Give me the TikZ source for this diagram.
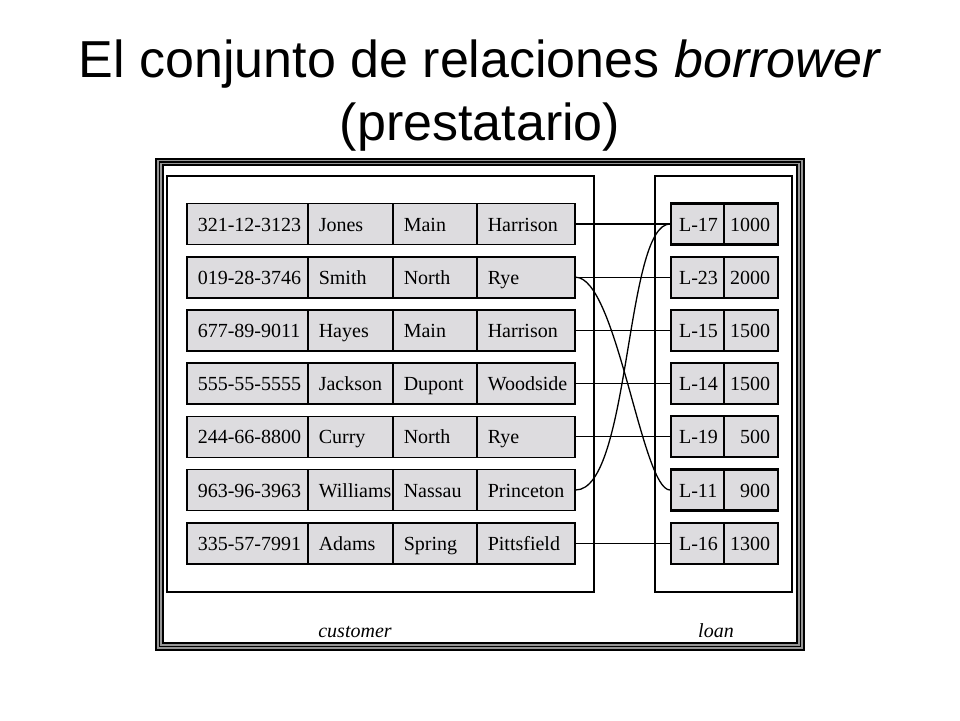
\documentclass[tikz,border=0pt]{standalone}
\usepackage{fontspec}
\setmainfont{Liberation Serif}
\newfontfamily\titlefont{Liberation Sans}
\definecolor{cellgray}{RGB}{221,220,223}
\definecolor{bandgray}{RGB}{150,150,150}
\tikzset{
  cell/.style={draw, line width=1.6pt, fill=cellgray, anchor=west, minimum height=41,
    inner xsep=11, inner ysep=0, text height=14, text depth=0, align=left,
    font=\fontsize{20}{24}\selectfont, execute at begin node={\exhyphenpenalty=10000\relax}},
  loancell/.style={cell, line width=2.2pt},
  link/.style={line width=1.3pt},
  relname/.style={font=\fontsize{20}{24}\selectfont\itshape, anchor=base},
}

\begin{document}
\begin{tikzpicture}[x=1pt,y=-1pt]
\useasboundingbox (0,0) rectangle (960,720);
% title
\node[anchor=base, font=\titlefont\fontsize{52}{62}\selectfont] (title1) at (480,77) {El conjunto de relaciones \textit{borrower}};
\node[anchor=base, font=\titlefont\fontsize{52}{62}\selectfont] (title2) at (480,140) {(prestatario)};
% frame
\draw[bandgray, line width=7pt] (159.5,162) rectangle (800.5,646.5);
\draw[line width=1.2pt] (156,159) rectangle (804,650);
\draw[line width=1.2pt] (159.5,162) rectangle (800.5,646.5);
\draw[line width=1.2pt] (163,165) rectangle (797,643);
\draw[line width=1.4pt] (167,176) rectangle (594,592);
\draw[line width=1.4pt] (655,176) rectangle (792,592);
% customer
\node[cell, text width=99] (c1a) at (186,224) {321-12-3123};
\node[cell, text width=63] (c1b) at (307,224) {Jones};
\node[cell, text width=62] (c1c) at (392,224) {Main};
\node[cell, text width=76] (c1d) at (476,224) {Harrison};
\node[cell, text width=99] (c2a) at (186,277.2) {019-28-3746};
\node[cell, text width=63] (c2b) at (307,277.2) {Smith};
\node[cell, text width=62] (c2c) at (392,277.2) {North};
\node[cell, text width=76] (c2d) at (476,277.2) {Rye};
\node[cell, text width=99] (c3a) at (186,330.4) {677-89-9011};
\node[cell, text width=63] (c3b) at (307,330.4) {Hayes};
\node[cell, text width=62] (c3c) at (392,330.4) {Main};
\node[cell, text width=76] (c3d) at (476,330.4) {Harrison};
\node[cell, text width=99] (c4a) at (186,383.6) {555-55-5555};
\node[cell, text width=63] (c4b) at (307,383.6) {Jackson};
\node[cell, text width=62] (c4c) at (392,383.6) {Dupont};
\node[cell, text width=76] (c4d) at (476,383.6) {Woodside};
\node[cell, text width=99] (c5a) at (186,436.8) {244-66-8800};
\node[cell, text width=63] (c5b) at (307,436.8) {Curry};
\node[cell, text width=62] (c5c) at (392,436.8) {North};
\node[cell, text width=76] (c5d) at (476,436.8) {Rye};
\node[cell, text width=99] (c6a) at (186,490) {963-96-3963};
\node[cell, text width=63] (c6b) at (307,490) {Williams};
\node[cell, text width=62] (c6c) at (392,490) {Nassau};
\node[cell, text width=76] (c6d) at (476,490) {Princeton};
\node[cell, text width=99] (c7a) at (186,543.2) {335-57-7991};
\node[cell, text width=63] (c7b) at (307,543.2) {Adams};
\node[cell, text width=62] (c7c) at (392,543.2) {Spring};
\node[cell, text width=76] (c7d) at (476,543.2) {Pittsfield};
% loan
\node[loancell, inner xsep=8, text width=37] (l1a) at (670,224) {L-17};
\node[loancell, inner xsep=6, text width=42] (l1b) at (723,224) {1000};
\node[loancell, inner xsep=8, text width=37] (l2a) at (670,277.2) {L-23};
\node[loancell, inner xsep=6, text width=42] (l2b) at (723,277.2) {2000};
\node[loancell, inner xsep=8, text width=37] (l3a) at (670,330.4) {L-15};
\node[loancell, inner xsep=6, text width=42] (l3b) at (723,330.4) {1500};
\node[loancell, inner xsep=8, text width=37] (l4a) at (670,383.6) {L-14};
\node[loancell, inner xsep=6, text width=42] (l4b) at (723,383.6) {1500};
\node[loancell, inner xsep=8, text width=37] (l5a) at (670,436.8) {L-19};
\node[loancell, inner xsep=6, text width=42] (l5b) at (723,436.8) {\phantom{0}500};
\node[loancell, inner xsep=8, text width=37] (l6a) at (670,490) {L-11};
\node[loancell, inner xsep=6, text width=42] (l6b) at (723,490) {\phantom{0}900};
\node[loancell, inner xsep=8, text width=37] (l7a) at (670,543.2) {L-16};
\node[loancell, inner xsep=6, text width=42] (l7b) at (723,543.2) {1300};
% borrower
\draw[link] (c1d.east) -- (l1a.west);
\draw[link] (c2d.east) -- (l2a.west);
\draw[link] (c3d.east) -- (l3a.west);
\draw[link] (c4d.east) -- (l4a.west);
\draw[link] (c5d.east) -- (l5a.west);
\draw[link] (c7d.east) -- (l7a.west);
\draw[link] (c2d.east) .. controls +(41,0) and +(-28,0) .. (l6a.west);
\draw[link] (c6d.east) .. controls +(55,0) and +(-45,0) .. (l1a.west);
\node[relname] (customer) at (355,637) {customer};
\node[relname] (loan) at (716,637) {loan};
\end{tikzpicture}
\end{document}
